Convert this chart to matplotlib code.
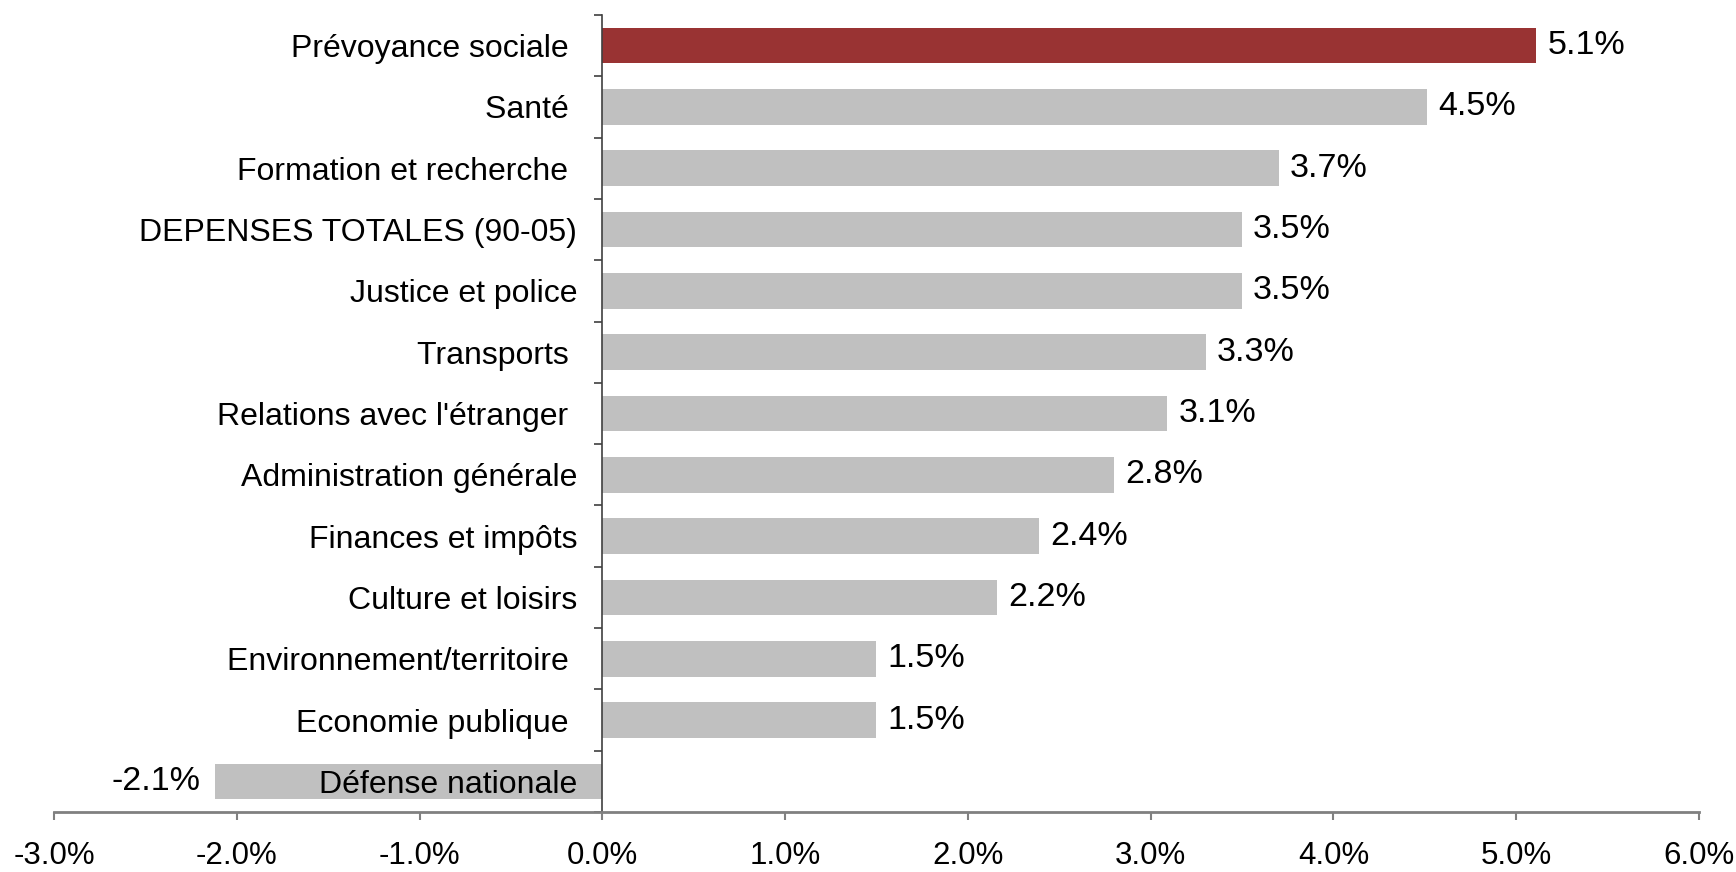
import numpy as np
import matplotlib.pyplot as plt

# Données (croissance annuelle moyenne des dépenses, 1990-2005)
categories = ["Prévoyance sociale ", "Santé ", "Formation et recherche ",
              "DEPENSES TOTALES (90-05)", "Justice et police", "Transports ",
              "Relations avec l'étranger ", "Administration générale",
              "Finances et impôts", "Culture et loisirs",
              "Environnement/territoire ", "Economie publique ",
              "Défense nationale"]
values = [5.11, 4.51, 3.70, 3.50, 3.50, 3.30, 3.09, 2.80, 2.39, 2.16,
          1.50, 1.50, -2.12]
highlight = "Prévoyance sociale "
xticks = [-3, -2, -1, 0, 1, 2, 3, 4, 5, 6]

plt.rcParams['font.family'] = ['Liberation Sans', 'DejaVu Sans']
fs = 22.5
fs_val = 24.5
fs_cat = 23

fig = plt.figure(figsize=(17.36, 8.72), dpi=100)
ax = fig.add_axes([54 / 1736, 1 - 812 / 872, (1699 - 54) / 1736, (812 - 15) / 872])

# axe vertical positionné à zéro (avant les ticks, set_position les réinitialise)
ax.spines['left'].set_position(('data', 0))
ax.spines['left'].set_color('#404040')
ax.spines['left'].set_linewidth(1.2)
ax.spines['bottom'].set_color('#808080')
ax.spines['bottom'].set_linewidth(2)
ax.spines['top'].set_visible(False)
ax.spines['right'].set_visible(False)

n = len(categories)
y = np.arange(n)
colors = ['#993333' if c == highlight else '#C0C0C0' for c in categories]
# barres sous les étiquettes (Défense nationale s'écrit sur la barre)
ax.barh(y, values, height=0.58, color=colors, zorder=1)

for yi, v in zip(y, values):
    if v >= 0:
        ax.annotate(f"{v:.1f}%", (v, yi), xytext=(8, 0), textcoords='offset points',
                    ha='left', va='center', fontsize=fs_val)
    else:
        ax.annotate(f"{v:.1f}%", (v, yi), xytext=(-10, 0), textcoords='offset points',
                    ha='right', va='center', fontsize=fs_val)

ax.set_xlim(-3, 6)
ax.set_ylim(n - 0.5, -0.5)
ax.set_xticks(xticks)
ax.set_xticklabels([f"{t:.1f}%" for t in xticks], fontsize=fs)

ax.set_yticks(y)
ax.set_yticklabels(categories, fontsize=fs_cat)
ax.set_yticks(np.arange(n + 1) - 0.5, minor=True)

ax.tick_params(axis='y', which='major', length=0, pad=18)
ax.tick_params(axis='y', which='minor', length=6, width=1.2, color='#404040')
ax.tick_params(axis='x', length=6, width=1.5, color='#808080', pad=15)

plt.savefig('out.png', dpi=100)
